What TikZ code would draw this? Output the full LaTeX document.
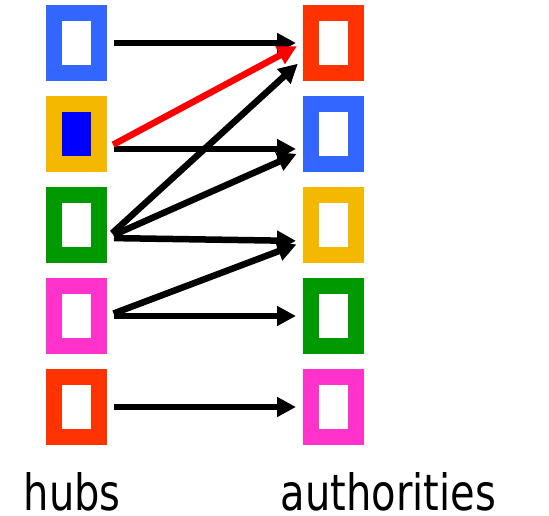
\documentclass[tikz,border=0pt]{standalone}
\usepackage{fontspec}
\newfontfamily\lblfont[FakeStretch=0.8]{DejaVu Sans}
\usetikzlibrary{arrows.meta,positioning}
\definecolor{cblue}{HTML}{3366FF}
\definecolor{cyellow}{HTML}{F5B800}
\definecolor{cgreen}{HTML}{009900}
\definecolor{cpink}{HTML}{FF33CC}
\definecolor{corange}{HTML}{FF3300}
\definecolor{cinner}{HTML}{0000FF}
\definecolor{cred}{HTML}{FF0000}

\begin{document}
\begin{tikzpicture}[x=1pt, y=1pt,
  sq/.style={draw=#1, line width=16pt, fill=white, minimum width=45pt, minimum height=60pt, inner sep=0pt},
  arr/.style={-{Triangle[length=19pt,width=19pt]}, line width=6.5pt, shorten <=7pt, shorten >=7pt},
  lbl/.style={font=\lblfont\fontsize{50}{60}\selectfont, inner sep=0pt}
]
\useasboundingbox (0,0) rectangle (549,516);
% hubs
\node[sq=cblue] (h1) at (76.5,473) {};
\node[sq=cyellow, fill=cinner, below=15pt of h1] (h2) {};
\node[sq=cgreen, below=15pt of h2] (h3) {};
\node[sq=cpink, below=15pt of h3] (h4) {};
\node[sq=corange, below=15pt of h4] (h5) {};
% authorities
\node[sq=corange, right=196pt of h1] (a1) {};
\node[sq=cblue, below=15pt of a1] (a2) {};
\node[sq=cyellow, below=15pt of a2] (a3) {};
\node[sq=cgreen, below=15pt of a3] (a4) {};
\node[sq=cpink, below=15pt of a4] (a5) {};
% links
\draw[arr] (h1.east) -- (a1.west);
\draw[arr] ([yshift=-15pt]h2.east) -- ([yshift=-15pt]a2.west);
\draw[arr] ([yshift=-13pt]h3.east) -- ([yshift=-16pt]a1.west);
\draw[arr] ([yshift=-13pt]h3.east) -- ([yshift=-17pt]a2.west);
\draw[arr] ([yshift=-13pt]h3.east) -- ([yshift=-16pt]a3.west);
\draw[arr] (h4.east) -- ([yshift=-17pt]a3.west);
\draw[arr] (h4.east) -- (a4.west);
\draw[arr] (h5.east) -- (a5.west);
\draw[arr, cred] ([yshift=-14pt]h2.east) -- (a1.west);
% labels
\node[lbl, anchor=base west] (hubs) at (23.5,5) {hubs};
\node[lbl, anchor=base west] (auth) at (280.5,5) {authorities};
\end{tikzpicture}
\end{document}
